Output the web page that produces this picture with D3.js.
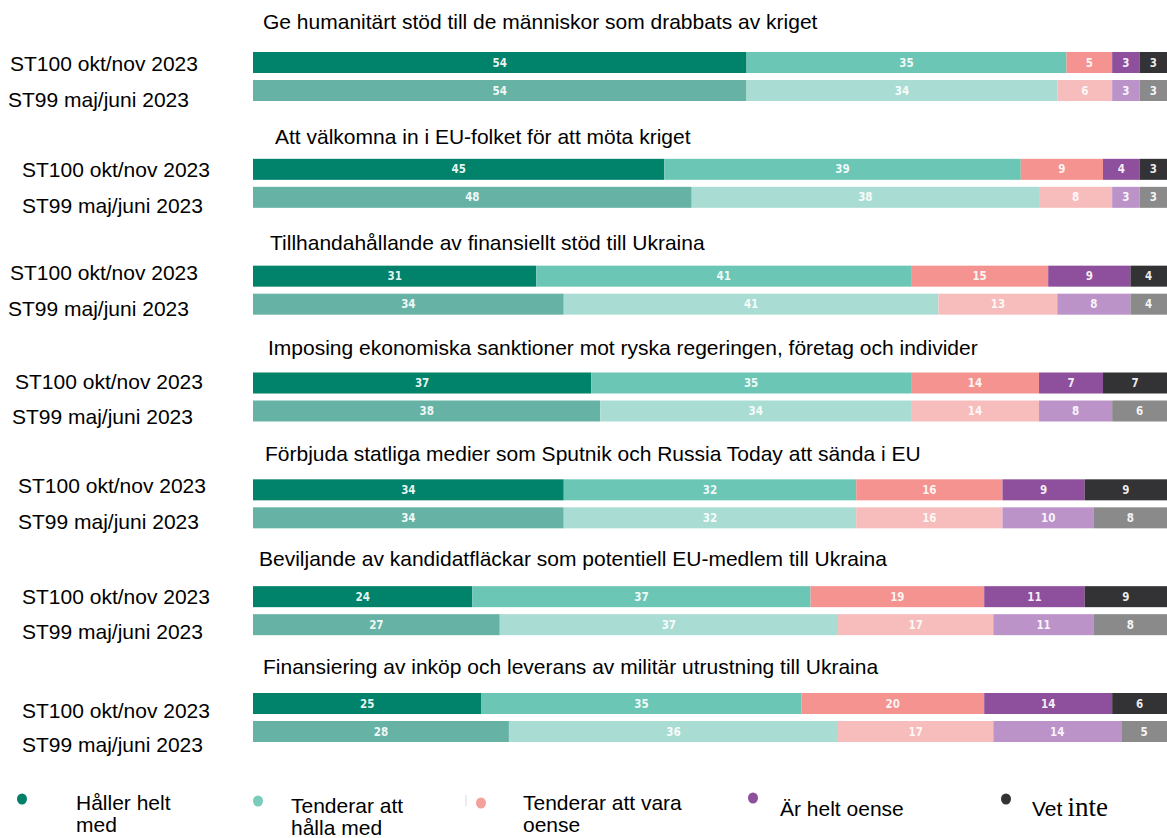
<!DOCTYPE html>
<html>
<head>
<meta charset="utf-8">
<script src="https://cdn.jsdelivr.net/npm/d3@7"></script>
<style>
  html, body { margin: 0; padding: 0; background: #ffffff; }
  svg { display: block; }
  .lbl { font-family: "Liberation Sans", Arial, sans-serif; fill: #000; }
  .val { font-family: "Liberation Sans Narrow", "DejaVu Sans Condensed", sans-serif; font-weight: bold; font-stretch: condensed; fill: #ffffff; }
</style>
</head>
<body>
<svg id="chart" width="1167" height="838"></svg>
<script>
// ---- data ----
const questions = [
  "Ge humanitärt stöd till de människor som drabbats av kriget",
  "Att välkomna in i EU-folket för att möta kriget",
  "Tillhandahållande av finansiellt stöd till Ukraina",
  "Imposing ekonomiska sanktioner mot ryska regeringen, företag och individer",
  "Förbjuda statliga medier som Sputnik och Russia Today att sända i EU",
  "Beviljande av kandidatfläckar som potentiell EU-medlem till Ukraina",
  "Finansiering av inköp och leverans av militär utrustning till Ukraina"
];
const waves = ["ST100 okt/nov 2023", "ST99 maj/juni 2023"];
const categories = ["Håller helt med", "Tenderar att hålla med", "Tenderar att vara oense", "Är helt oense", "Vet inte"];
const st100 = [
  [54, 35, 5, 3, 3],
  [45, 39, 9, 4, 3],
  [31, 41, 15, 9, 4],
  [37, 35, 14, 7, 7],
  [34, 32, 16, 9, 9],
  [24, 37, 19, 11, 9],
  [25, 35, 20, 14, 6]
];
const st99 = [
  [54, 34, 6, 3, 3],
  [48, 38, 8, 3, 3],
  [34, 41, 13, 8, 4],
  [38, 34, 14, 8, 6],
  [34, 32, 16, 10, 8],
  [27, 37, 17, 11, 8],
  [28, 36, 17, 14, 5]
];

// ---- styles / layout ----
const colorsNew = ["#00826b", "#6cc6b5", "#f4938f", "#8e4f9c", "#333234"];
const colorsOld = ["#66b3a6", "#a9ddd3", "#f7bcbc", "#bc93c8", "#8a8a8a"];
const titleX = [263, 275, 270, 268, 265, 259, 263];
const titleDy = [-23, -15, -16, -18, -18, -20, -19];
const labelX = [[10, 8], [22, 22], [10, 8], [15, 12], [18, 18], [22, 22], [22, 22]];
const labelDy = [[1, 9], [1, 9], [-3, 5], [-1, 6], [-4, 4], [0, 7], [7, 13]];
const fontSize = 21;

const svg = d3.select("#chart");
const x = d3.scaleLinear().domain([0, 1]).range([253, 1167]);
const yGroup = d3.scalePoint().domain(d3.range(questions.length)).range([52, 693]);
const yWave = d3.scalePoint().domain(waves).range([0, 28]);
const barH = 21;

const stack = d3.stack().keys(d3.range(categories.length)).offset(d3.stackOffsetExpand);

questions.forEach((q, gi) => {
  const g = svg.append("g");
  const top = yGroup(gi);
  g.append("text").attr("class", "lbl")
    .attr("x", titleX[gi]).attr("y", top + titleDy[gi])
    .attr("font-size", fontSize).text(q);

  const rows = [st100[gi], st99[gi]];
  rows.forEach((vals, wi) => {
    const rowTop = top + yWave(waves[wi]);
    const series = stack([vals]);
    const pal = wi === 0 ? colorsNew : colorsOld;
    series.forEach((s, ci) => {
      const d = s[0];
      g.append("rect")
        .attr("x", x(d[0])).attr("y", rowTop)
        .attr("width", x(d[1]) - x(d[0])).attr("height", barH)
        .attr("fill", pal[ci]);
      g.append("text").attr("class", "val")
        .attr("x", (x(d[0]) + x(d[1])) / 2).attr("y", rowTop + barH / 2 + 4)
        .attr("text-anchor", "middle").attr("font-size", 11.5)
        .attr("fill-opacity", 0.92)
        .text(vals[ci]);
    });
    g.append("text").attr("class", "lbl")
      .attr("x", labelX[gi][wi]).attr("y", rowTop + barH / 2 + 7 + labelDy[gi][wi])
      .attr("font-size", fontSize).text(waves[wi]);
  });
});

// ---- legend ----
const legendItems = [
  { dot: [22, 799], tx: 76, ty: 810, lines: ["Håller helt", "med"] },
  { dot: [258, 801], tx: 291, ty: 813, lines: ["Tenderar att", "hålla med"] },
  { dot: [481, 803], tx: 523, ty: 810, lines: ["Tenderar att vara", "oense"] },
  { dot: [753, 798], tx: 780, ty: 816, lines: ["Är helt oense"] },
  { dot: [1006, 799], tx: 1032, ty: 816, lines: ["Vet"] }
];
const legendDots = ["#00806a", "#79cbbb", "#f4a19c", "#8e4f9c", "#333234"];
const lg = svg.append("g");
legendItems.forEach((it, i) => {
  lg.append("ellipse").attr("cx", it.dot[0]).attr("cy", it.dot[1])
    .attr("rx", 5).attr("ry", 5.5).attr("fill", legendDots[i]);
  const t = lg.append("text").attr("class", "lbl")
    .attr("x", it.tx).attr("y", it.ty).attr("font-size", fontSize);
  it.lines.forEach((ln, li) => {
    t.append("tspan").attr("x", it.tx).attr("dy", li === 0 ? 0 : 22).text(ln);
  });
  if (i === 4) {
    t.append("tspan").attr("dx", 5)
      .attr("font-family", "'Liberation Serif', 'Times New Roman', serif")
      .attr("font-size", 27).text("inte");
  }
});
lg.append("line").attr("x1", 466).attr("x2", 466).attr("y1", 795).attr("y2", 806)
  .attr("stroke", "#e6e6e6").attr("stroke-width", 1.5);
</script>
</body>
</html>
